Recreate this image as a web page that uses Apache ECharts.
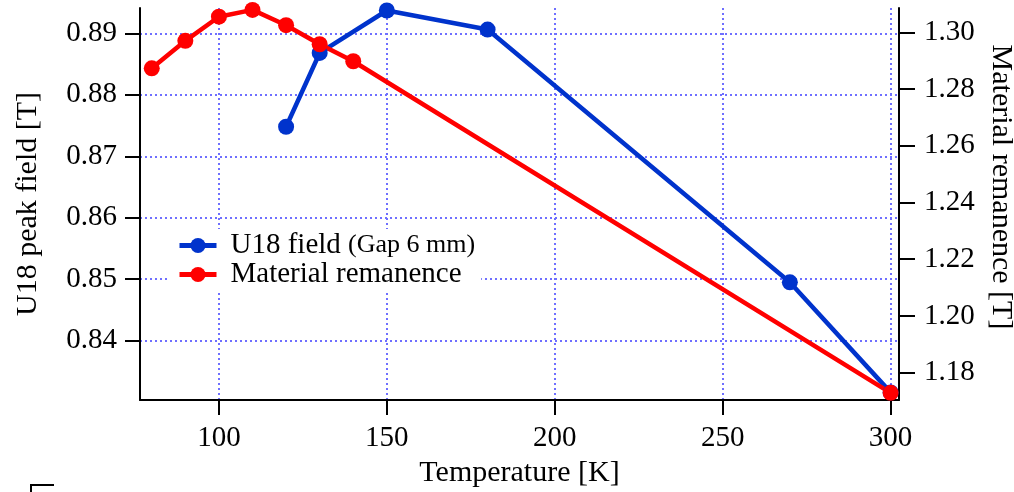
<!DOCTYPE html>
<html>
<head>
<meta charset="utf-8">
<script src="https://cdn.jsdelivr.net/npm/echarts@6/dist/echarts.min.js"></script>
<style>html,body{margin:0;padding:0;background:#fff}#c{width:1014px;height:492px}</style>
</head>
<body>
<div id="c"></div>
<script>
var fieldTemps = [120, 130, 150, 180, 270, 300];
var fieldValues = [0.8748, 0.8868, 0.8937, 0.8906, 0.8495, 0.8316];
var remTemps = [80, 90, 100, 110, 120, 130, 140, 300];
var remValues = [1.2873, 1.2970, 1.3055, 1.3079, 1.3025, 1.2958, 1.2898, 1.1729];
var xTicks = [100, 150, 200, 250, 300];
var leftTicks = [0.84, 0.85, 0.86, 0.87, 0.88, 0.89];
var rightTicks = [1.18, 1.20, 1.22, 1.24, 1.26, 1.28, 1.30];

var FONT = "'Liberation Serif','Times New Roman',serif";
function pairs(xs, ys){ return xs.map(function(x,i){ return [x, ys[i]]; }); }

var chart = echarts.init(document.getElementById('c'));
chart.setOption({
  backgroundColor: '#fff',
  animation: false,
  textStyle: { fontFamily: FONT, color: '#000' },
  grid: { left: 140, right: 115, top: 8, bottom: 92, outerBoundsMode: 'none', containLabel: false },
  legend: {
    left: 168, top: 229, orient: 'vertical',
    padding: [2, 6, 2, 9], backgroundColor: '#fff',
    itemWidth: 37, itemHeight: 19, itemGap: 0,
    lineStyle: { width: 5 },
    textStyle: {
      fontFamily: FONT, fontSize: 29, color: '#000', lineHeight: 28, padding: [0,0,0,9],
      rich: { s: { fontFamily: FONT, fontSize: 26, color: '#000', lineHeight: 28 } }
    },
    formatter: function(name){
      if (name === 'U18 field') return 'U18 field {s|(Gap 6 mm)}';
      return name;
    },
    data: ['U18 field', 'Material remanence']
  },
  xAxis: {
    type: 'value', min: 76.5, max: 302.5,
    name: 'Temperature [K]', nameLocation: 'middle', nameGap: 58,
    nameTextStyle: { fontFamily: FONT, fontSize: 30, color: '#000' },
    axisLine: { show: true, lineStyle: { color: '#000', width: 2 } },
    axisTick: { show: true, length: 15, lineStyle: { color: '#000', width: 2 }, customValues: xTicks },
    axisLabel: { fontFamily: FONT, fontSize: 29, color: '#000', margin: 24, customValues: xTicks },
    splitLine: { show: true, lineStyle: { color: '#6f6fff', width: 2, type: [2, 3] } }
  },
  yAxis: [{
    type: 'value', min: 0.83036, max: 0.89411, position: 'left',
    name: 'U18 peak field [T]', nameLocation: 'middle', nameGap: 97,
    nameTextStyle: { fontFamily: FONT, fontSize: 30, color: '#000' },
    axisLine: { show: true, lineStyle: { color: '#000', width: 2 } },
    axisTick: { show: true, length: 15, lineStyle: { color: '#000', width: 2 }, customValues: leftTicks },
    axisLabel: { fontFamily: FONT, fontSize: 29, color: '#000', margin: 23, customValues: leftTicks,
      formatter: function(v){ return v.toFixed(2); } },
    splitLine: { show: true, lineStyle: { color: '#6f6fff', width: 2, type: [2, 3] } }
  }, {
    type: 'value', min: 1.17037, max: 1.30857, position: 'right',
    name: 'Material remanence [T]', nameLocation: 'middle', nameGap: 82, nameRotate: -90,
    nameTextStyle: { fontFamily: FONT, fontSize: 30, color: '#000', padding: [0, 34, 0, 0] },
    axisLine: { show: true, lineStyle: { color: '#000', width: 2 } },
    axisTick: { show: true, length: 16, lineStyle: { color: '#000', width: 2 }, customValues: rightTicks },
    axisLabel: { fontFamily: FONT, fontSize: 29, color: '#000', margin: 25, customValues: rightTicks,
      formatter: function(v){ return v.toFixed(2); } },
    splitLine: { show: false }
  }],
  graphic: [{
    type: 'polyline', shape: { points: [[31, 492], [31, 485], [54, 485]] },
    style: { stroke: '#000', lineWidth: 2, fill: null }
  }],
  series: [{
    name: 'U18 field', type: 'line', yAxisIndex: 0,
    data: pairs(fieldTemps, fieldValues),
    symbol: 'circle', symbolSize: 16,
    lineStyle: { color: '#0033cc', width: 4.5 },
    itemStyle: { color: '#0033cc' }
  }, {
    name: 'Material remanence', type: 'line', yAxisIndex: 1,
    data: pairs(remTemps, remValues),
    symbol: 'circle', symbolSize: 16,
    lineStyle: { color: '#ff0000', width: 4.5 },
    itemStyle: { color: '#ff0000' }
  }]
});
</script>
</body>
</html>
